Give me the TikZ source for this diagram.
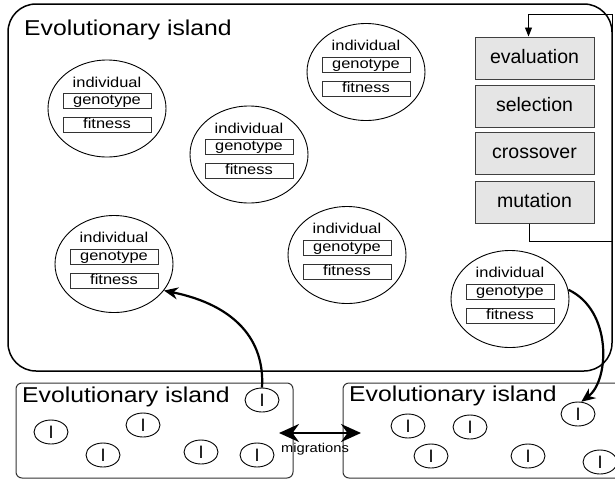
\documentclass[tikz,border=0pt]{standalone}
\usepackage{fontspec}
\setmainfont{Liberation Sans}
\newfontfamily\widefont{Liberation Sans}[FakeStretch=1.15]
\usetikzlibrary{shapes.geometric,arrows.meta}

\tikzset{
  indiv/.style={ellipse,draw,line width=0.9pt,minimum width=118pt,minimum height=97pt,inner sep=0pt},
  indlabel/.style={inner sep=0pt,font=\widefont\fontsize{14.3}{14.3}\selectfont},
  fieldbox/.style={draw=black!80,line width=0.8pt,minimum width=88pt,minimum height=15pt,inner sep=0pt,
    text height=10.2pt,text depth=3pt,font=\widefont\fontsize{14.3}{14.3}\selectfont},
  procbox/.style={draw=black!75,fill=black!10,line width=1pt,minimum width=119pt,minimum height=42pt,inner sep=0pt,
    text height=14pt,text depth=4pt,font=\fontsize{19.5}{19.5}\selectfont},
  islandtitle/.style={anchor=base west,inner sep=0pt,font=\widefont\fontsize{21.5}{21.5}\selectfont},
  bigisland/.style={draw,line width=1.5pt,rounded corners=28pt},
  smallisland/.style={draw=black!80,line width=1pt,rounded corners=6pt},
  smallind/.style={ellipse,draw,line width=0.9pt,minimum width=34pt,minimum height=24pt,inner sep=0pt,
    font=\fontsize{18}{18}\selectfont},
  migarrow/.style={line width=2.6pt,{Stealth[length=20pt,width=18pt]}-{Stealth[length=20pt,width=18pt]}},
  curvearrow/.style={line width=2.2pt,-{Stealth[length=14pt,width=12pt]}},
  loopline/.style={line width=0.9pt,-{Triangle[length=9pt,width=7pt]}},
  miglabel/.style={inner sep=0pt,font=\widefont\fontsize{12.8}{12.8}\selectfont}
}

% name, x, y of genotype box centre
\newcommand\individualnode[3]{%
  \node[indiv] (#1) at (#2,#3+7.5) {};
  \node[indlabel] (#1-i) at (#2,#3-19) {individual};
  \node[fieldbox] (#1-g) at (#2,#3) {genotype};
  \node[fieldbox] (#1-f) at (#2,#3+24) {fitness};
}

\begin{document}
\begin{tikzpicture}[x=1pt,y=-1pt]
  \clip (0,0) rectangle (615,482);
  \fill[white] (0,0) rectangle (615,482);

  % main island
  \draw[bigisland] (8,4) rectangle (612,371);
  \node[islandtitle] (title) at (24,35) {Evolutionary island};

  % individuals
  \individualnode{ind1}{107}{101}
  \individualnode{ind2}{249}{147}
  \individualnode{ind3}{366}{64.5}
  \individualnode{ind4}{347}{247.5}
  \individualnode{ind5}{114}{256.5}
  \individualnode{ind6}{510}{291.5}

  % process boxes
  \node[procbox] (eval) at (534.5,58) {evaluation};
  \node[procbox] (sel)  at (534.5,106) {selection};
  \node[procbox] (cross) at (534.5,153) {crossover};
  \node[procbox] (mut)  at (534.5,202) {mutation};

  \coordinate (loopA) at (612,241);
  \coordinate (loopB) at (612,14);
  \draw[loopline] ([xshift=-5pt]mut.south) |- (loopA) -- (loopB) -| ([xshift=-6pt]eval.north);

  % bottom left island
  \draw[smallisland] (16,383) rectangle (293,478);
  \node[islandtitle] (titleL) at (22,402) {Evolutionary island};
  \node[smallind] (l1) at (51,432) {I};
  \node[smallind] (l2) at (143,425) {I};
  \node[smallind] (l3) at (103,455) {I};
  \node[smallind] (l4) at (201,452) {I};
  \node[smallind] (l5) at (257,455) {I};
  \node[smallind] (l6) at (262,400) {I};

  % bottom right island
  \draw[smallisland] (343,383) rectangle (640,478);
  \node[islandtitle] (titleR) at (349,401) {Evolutionary island};
  \node[smallind] (r1) at (408,426) {I};
  \node[smallind] (r2) at (470,427) {I};
  \node[smallind] (r3) at (431,456) {I};
  \node[smallind] (r4) at (528,456) {I};
  \node[smallind] (r5) at (578,414) {I};
  \node[smallind] (r6) at (600,462) {I};

  % migrations
  \coordinate (mL) at (279,433);
  \coordinate (mR) at (361,433);
  \draw[migarrow] (mL) -- (mR);
  \node[miglabel] (mig) at (315,449) {migrations};

  % migration arrows
  \draw[curvearrow] (l6.north) .. controls (265,340) and (235,305) .. (ind5.-28);
  \draw[curvearrow] (ind6.9) .. controls (612,310) and (610,380) .. (r5.75);
\end{tikzpicture}
\end{document}
